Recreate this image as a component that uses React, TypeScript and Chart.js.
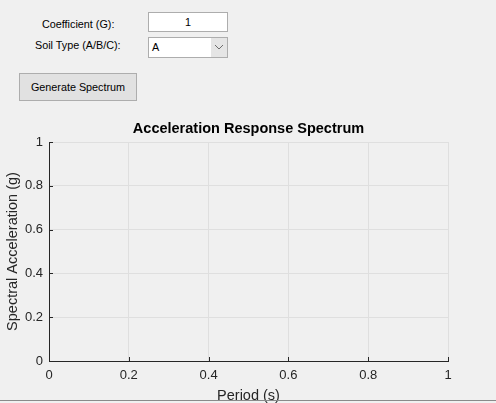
import { useEffect, useRef } from 'react';
import { Chart, registerables } from 'chart.js';

Chart.register(...registerables);

// empty spectrum - nothing generated yet
const periods: number[] = [];
const spectralAccel: number[] = [];
const xTickValues = [0, 0.2, 0.4, 0.6, 0.8, 1];
const yTickValues = [0, 0.2, 0.4, 0.6, 0.8, 1];

const AXIS_COLOR = '#262626';
const GRID_COLOR = '#dfdfdf';
const FONT = '"Liberation Sans", Arial, sans-serif';
const UI_SIZE = 10.8;

// matlab style ticks pointing into the plot
const innerTicks = {
  id: 'innerTicks',
  afterDraw(chart: Chart) {
    const { ctx, chartArea, scales } = chart;
    ctx.save();
    ctx.strokeStyle = AXIS_COLOR;
    ctx.lineWidth = 1;
    ctx.beginPath();
    xTickValues.forEach((v) => {
      const px = Math.round(scales.x.getPixelForValue(v)) + 0.5;
      ctx.moveTo(px, chartArea.bottom);
      ctx.lineTo(px, chartArea.bottom - 4);
    });
    yTickValues.forEach((v) => {
      const py = Math.round(scales.y.getPixelForValue(v)) + 0.5;
      ctx.moveTo(chartArea.left, py);
      ctx.lineTo(chartArea.left + 4, py);
    });
    ctx.stroke();
    ctx.restore();
  },
};

function SpectrumChart() {
  const chartRef = useRef<HTMLCanvasElement | null>(null);
  const chartInstance = useRef<Chart | null>(null);

  useEffect(() => {
    const ctx = chartRef.current?.getContext('2d');
    if (!ctx) return;

    if (chartInstance.current) {
      chartInstance.current.destroy();
    }

    chartInstance.current = new Chart(ctx, {
      type: 'line',
      data: {
        datasets: [
          {
            label: 'Sa',
            data: periods.map((p, i) => ({ x: p, y: spectralAccel[i] })),
            borderColor: '#0072bd',
            borderWidth: 1.5,
            pointRadius: 0,
          },
        ],
      },
      options: {
        responsive: true,
        maintainAspectRatio: false,
        animation: false,
        layout: { padding: { left: 0, right: 48, top: 0, bottom: 0 } },
        plugins: {
          legend: { display: false },
          tooltip: { enabled: false },
          title: {
            display: true,
            fullSize: false,
            text: 'Acceleration Response Spectrum',
            color: '#000',
            font: { family: FONT, size: 14.5, weight: 'bold', lineHeight: 1.2 },
            padding: { top: 5, bottom: 4.6 },
          },
        },
        scales: {
          x: {
            type: 'linear',
            min: 0,
            max: 1,
            afterFit: (scale) => {
              scale.height = 42;
            },
            afterBuildTicks: (scale) => {
              scale.ticks = xTickValues.map((v) => ({ value: v }));
            },
            ticks: {
              color: AXIS_COLOR,
              padding: 7,
              maxRotation: 0,
              font: { family: FONT, size: 13 },
              callback: (v) => String(v),
            },
            grid: { color: GRID_COLOR, drawTicks: false },
            border: { color: AXIS_COLOR, width: 1 },
            title: {
              display: true,
              text: 'Period (s)',
              color: AXIS_COLOR,
              font: { family: FONT, size: 14.5, lineHeight: 1 },
              padding: { top: 0, bottom: 0 },
            },
          },
          y: {
            type: 'linear',
            min: 0,
            max: 1,
            afterFit: (scale) => {
              scale.width = 49;
            },
            afterBuildTicks: (scale) => {
              scale.ticks = yTickValues.map((v) => ({ value: v }));
            },
            ticks: {
              color: AXIS_COLOR,
              padding: 6,
              font: { family: FONT, size: 13 },
              callback: (v) => String(v),
            },
            grid: { color: GRID_COLOR, drawTicks: false },
            border: { color: AXIS_COLOR, width: 1 },
            title: {
              display: true,
              text: 'Spectral Acceleration (g)',
              color: AXIS_COLOR,
              font: { family: FONT, size: 14.5, lineHeight: 1.2 },
              padding: { top: 4, bottom: 0 },
            },
          },
        },
      },
      plugins: [innerTicks],
    });

    return () => {
      chartInstance.current?.destroy();
      chartInstance.current = null;
    };
  }, []);

  return (
    <div style={{ position: 'absolute', left: 0, top: 115, width: 496, height: 288 }}>
      <canvas ref={chartRef}></canvas>
    </div>
  );
}

export default function App() {
  useEffect(() => {
    document.body.style.margin = '0';
  }, []);

  const labelStyle: React.CSSProperties = {
    position: 'absolute',
    fontSize: UI_SIZE,
    color: '#000',
    whiteSpace: 'nowrap',
  };

  return (
    <div
      style={{
        position: 'fixed',
        left: 0,
        top: 0,
        width: 496,
        height: 403,
        background: '#f0f0f0',
        fontFamily: FONT,
        overflow: 'hidden',
      }}
    >
      <div style={{ ...labelStyle, left: 42, top: 18 }}>Coefficient (G):</div>
      <div style={{ ...labelStyle, left: 35, top: 39 }}>Soil Type (A/B/C):</div>

      <div
        style={{
          position: 'absolute',
          left: 148,
          top: 12,
          width: 78,
          height: 18,
          background: '#fff',
          border: '1px solid #adadad',
          fontSize: UI_SIZE,
          lineHeight: '18px',
          textAlign: 'center',
        }}
      >
        1
      </div>

      <div
        style={{
          position: 'absolute',
          left: 148,
          top: 37,
          width: 78,
          height: 19,
          background: '#fff',
          border: '1px solid #adadad',
          fontSize: UI_SIZE,
          lineHeight: '19px',
        }}
      >
        <span style={{ position: 'absolute', left: 3 }}>A</span>
        <div
          style={{
            position: 'absolute',
            right: 0,
            top: 0,
            width: 16,
            height: 19,
            background: '#e5e5e5',
            textAlign: 'center',
          }}
        >
          <svg width="10" height="19" viewBox="0 0 10 19">
            <polyline points="1,7 5,11 9,7" fill="none" stroke="#6d6d6d" strokeWidth="1" />
          </svg>
        </div>
      </div>

      <div
        style={{
          position: 'absolute',
          left: 19,
          top: 73,
          width: 116,
          height: 26,
          background: '#e1e1e1',
          border: '1px solid #adadad',
          fontSize: UI_SIZE,
          lineHeight: '27px',
          textAlign: 'center',
        }}
      >
        Generate Spectrum
      </div>

      <SpectrumChart />

      <div
        style={{
          position: 'absolute',
          left: 0,
          top: 400,
          width: 496,
          height: 1,
          background: '#8a8a8a',
        }}
      ></div>
    </div>
  );
}
